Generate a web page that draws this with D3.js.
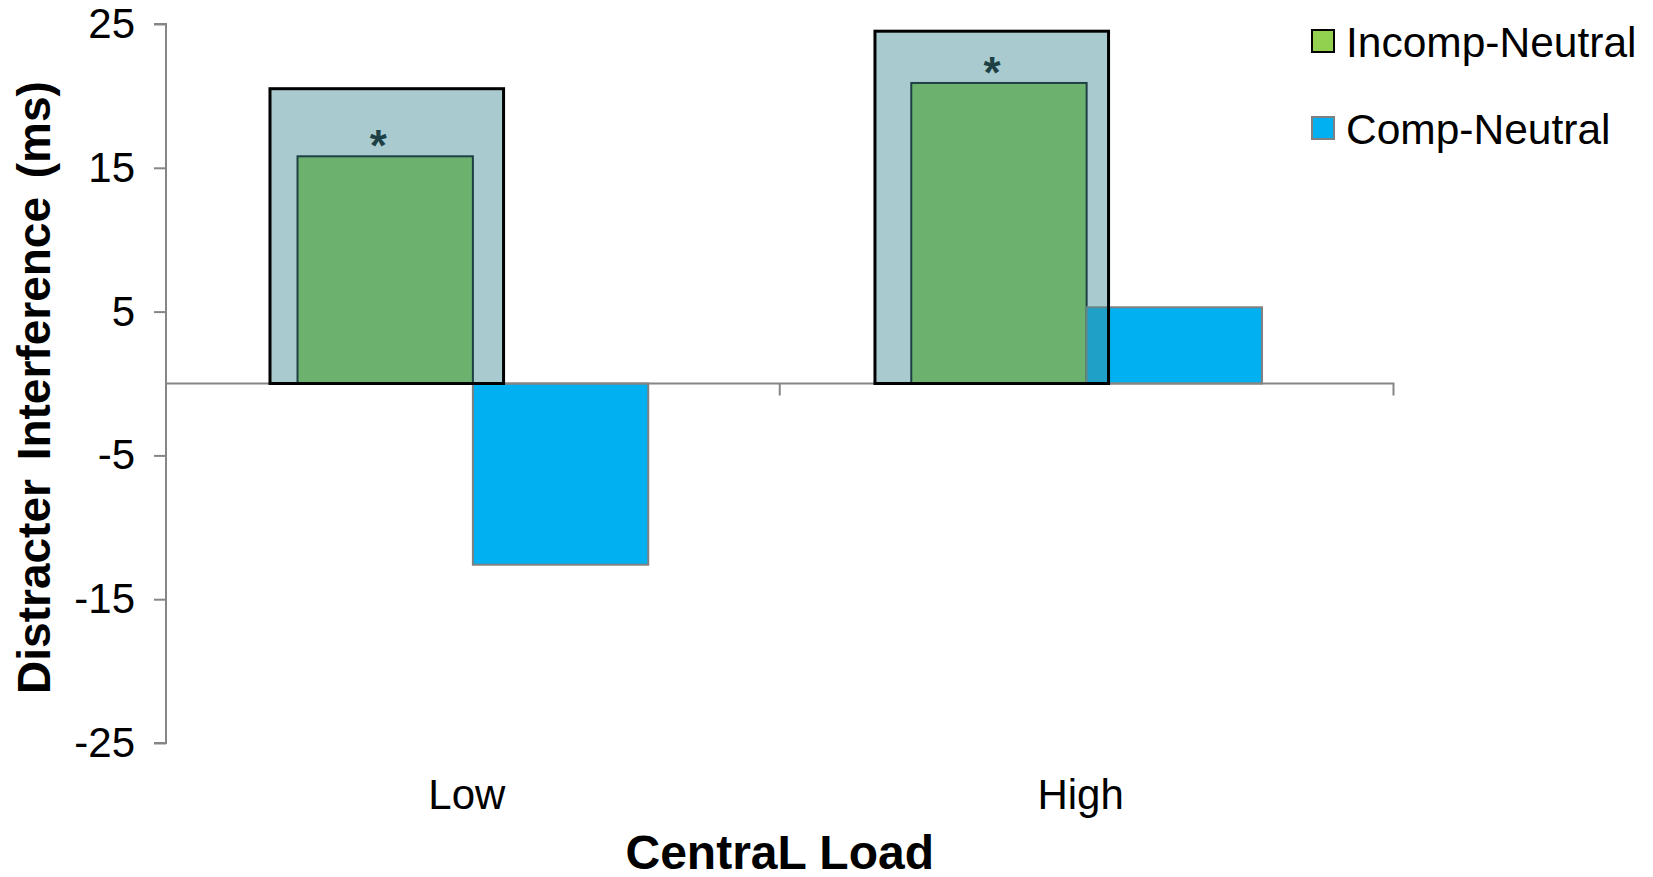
<!DOCTYPE html>
<html>
<head>
<meta charset="utf-8">
<script src="https://cdn.jsdelivr.net/npm/d3@7"></script>
<style>
  html, body { margin: 0; padding: 0; background: #fff; }
  svg { display: block; font-family: "Liberation Sans", Arial, sans-serif; }
</style>
</head>
<body>
<svg id="chart" width="1653" height="877"></svg>
<script>
// Distracter interference by central load
const categories = ["Low", "High"];
const seriesNames = ["Incomp-Neutral", "Comp-Neutral"];
const incompNeutral = [15.8, 20.9];
const compNeutral = [-12.6, 5.3];
// Highlight boxes behind the significant Incomp-Neutral bars (top value, ms)
const highlightTop = [20.5, 24.5];
const significance = ["*", "*"];
const yTicks = [-25, -15, -5, 5, 15, 25];

const colors = { "Incomp-Neutral": "#92d050", "Comp-Neutral": "#00b0f0" };
const strokes = { "Incomp-Neutral": "#000000", "Comp-Neutral": "#808080" };
const axisColor = "#868686";

const svg = d3.select("#chart");
const plot = { left: 166, right: 1393.5, top: 24, bottom: 743 };

const x = d3.scaleBand().domain(categories).range([plot.left, plot.right]).paddingInner(0).paddingOuter(0);
const y = d3.scaleLinear().domain([-25, 25]).range([plot.bottom, plot.top]);

// Excel-style clustered bars: gap width 150%
const barW = x.bandwidth() / 3.5;
const xs = d3.scaleBand().domain(seriesNames).range([0, barW * 2]);
const groupOffset = (x.bandwidth() - barW * 2) / 2;

const rows = categories.map((c, i) => ({
  cat: c,
  values: [
    { key: "Incomp-Neutral", value: incompNeutral[i] },
    { key: "Comp-Neutral", value: compNeutral[i] }
  ]
}));

// Y axis
const yAxis = d3.axisLeft(y).tickValues(yTicks).tickSize(12).tickPadding(19).tickFormat(d => String(d));
const gy = svg.append("g").attr("transform", `translate(${plot.left},0)`).call(yAxis);
gy.select(".domain").attr("stroke", axisColor).attr("stroke-width", 2)
  .attr("d", `M-12,${y(25)}H0V${y(-25)}H-12`);
gy.selectAll(".tick line").attr("stroke", axisColor).attr("stroke-width", 2);
gy.selectAll(".tick text").attr("fill", "#000").style("font-size", "42px");

// Bars
const groups = svg.append("g").selectAll("g").data(rows).join("g")
  .attr("transform", d => `translate(${x(d.cat) + groupOffset},0)`);

groups.selectAll("rect").data(d => d.values).join("rect")
  .attr("x", d => xs(d.key))
  .attr("width", xs.bandwidth())
  .attr("y", d => y(Math.max(0, d.value)))
  .attr("height", d => Math.abs(y(d.value) - y(0)))
  .attr("fill", d => colors[d.key])
  .attr("stroke", d => strokes[d.key])
  .attr("stroke-width", 2);

// X axis along zero, with category boundary ticks
const xAxis = d3.axisBottom(x).tickSize(0).tickFormat("");
const gx = svg.append("g").attr("transform", `translate(0,${y(0)})`).call(xAxis);
gx.select(".domain").attr("stroke", axisColor).attr("stroke-width", 2)
  .attr("d", `M${plot.left},0H${plot.right}V12`);
gx.selectAll(".tick").remove();
gx.selectAll(".bound").data(categories.slice(1)).join("line")
  .attr("class", "bound")
  .attr("x1", d => x(d)).attr("x2", d => x(d))
  .attr("y1", 0).attr("y2", 12)
  .attr("stroke", axisColor).attr("stroke-width", 2);

// Category labels
svg.append("g").selectAll("text").data(categories).join("text")
  .attr("x", d => x(d) + x.bandwidth() / 2 - 6)
  .attr("y", 809)
  .attr("text-anchor", "middle")
  .style("font-size", "42px")
  .text(d => d);

// Significance markers above Incomp-Neutral bars
svg.append("g").selectAll("text").data(rows).join("text")
  .attr("x", (d, i) => x(d.cat) + groupOffset + xs("Incomp-Neutral") + xs.bandwidth() / 2 - 7)
  .attr("y", (d, i) => y(incompNeutral[i]) + 5)
  .attr("text-anchor", "middle")
  .style("font-size", "44px")
  .style("font-weight", "bold")
  .attr("fill", "#000")
  .text((d, i) => significance[i]);

// Translucent highlight boxes (extent in bar widths: left of group start, right past green bar)
const boxExtent = [[1.157, 0.175], [1.207, 0.125]];
svg.append("g").selectAll("rect").data(rows).join("rect")
  .attr("x", (d, i) => x(d.cat) + groupOffset + barW - boxExtent[i][0] * barW)
  .attr("width", (d, i) => (boxExtent[i][0] + boxExtent[i][1]) * barW)
  .attr("y", (d, i) => y(highlightTop[i]))
  .attr("height", (d, i) => y(0) - y(highlightTop[i]))
  .attr("fill", "rgb(66,141,150)")
  .attr("fill-opacity", 0.455)
  .attr("stroke", "#000")
  .attr("stroke-width", 3);

// Axis titles
svg.append("text")
  .attr("transform", `translate(50,${(plot.top + plot.bottom) / 2 + 4}) rotate(-90)`)
  .attr("text-anchor", "middle")
  .style("font-size", "46px")
  .style("font-weight", "bold")
  .style("word-spacing", "6px")
  .text("Distracter Interference (ms)");

svg.append("text")
  .attr("x", x.range()[0] + (x.range()[1] - x.range()[0]) / 2)
  .attr("y", 869)
  .attr("text-anchor", "middle")
  .style("font-size", "48px")
  .style("font-weight", "bold")
  .text("CentraL Load");

// Legend
const legend = svg.append("g").attr("transform", "translate(1312,30)");
const li = legend.selectAll("g").data(seriesNames).join("g")
  .attr("transform", (d, i) => `translate(0,${i * 87})`);
li.append("rect")
  .attr("width", 22).attr("height", 22)
  .attr("fill", d => colors[d])
  .attr("stroke", d => strokes[d])
  .attr("stroke-width", 2);
li.append("text")
  .attr("x", 34).attr("y", 27)
  .style("font-size", "42.5px")
  .text(d => d);
</script>
</body>
</html>
